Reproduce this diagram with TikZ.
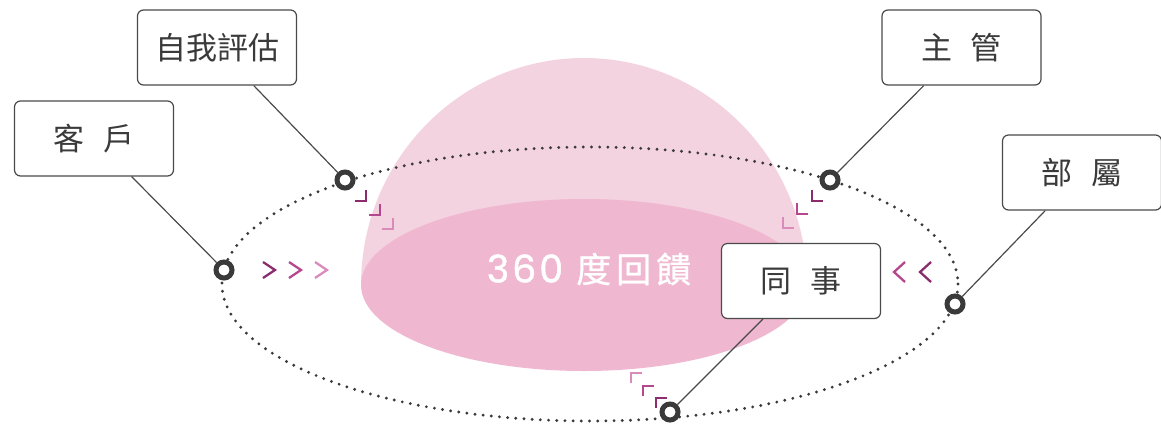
\documentclass[tikz,border=0pt]{standalone}
\usepackage{fontspec}
\newfontfamily\cjk{Noto Sans CJK TC}
\newfontfamily\numfont[FakeBold=1.2]{Poppins}
\newfontfamily\cjkbold[FakeBold=0.8]{Noto Sans CJK TC}
\definecolor{domelight}{HTML}{F4D3E1}
\definecolor{domebase}{HTML}{EFB8D0}
\definecolor{ringc}{HTML}{3A3A3A}
\definecolor{boxline}{HTML}{4A4A4A}
\definecolor{txt}{HTML}{3A3A3A}
\definecolor{pdark}{HTML}{8C2C6F}
\definecolor{pmid}{HTML}{B5478F}
\definecolor{plight}{HTML}{D98BBB}
\tikzset{
  labelbox/.style={draw=boxline, line width=1.2pt, fill=white, rounded corners=6pt,
    minimum width=159pt, minimum height=75pt, inner sep=0pt,
    font=\cjk\fontsize{31}{33}\selectfont, text=txt},
  ring/.style={circle, draw=ringc, line width=5pt, fill=white, minimum size=16pt, inner sep=0pt},
  conn/.style={draw=boxline, line width=1.2pt},
  dots/.style={draw=ringc, line width=3.2pt, dash pattern=on 0pt off 8.2pt, line cap=round},
  deco/.style={line width=2.3pt}
}
\begin{document}
\begin{tikzpicture}[x=1pt,y=-1pt]
\useasboundingbox (0,0) rectangle (1161,424);
% dome
\fill[domelight] (361,285) arc[start angle=180, end angle=360, x radius=223, y radius=227] -- cycle;
\fill[domebase] (584,285) ellipse[x radius=223, y radius=86];
\node[text=white, inner sep=0pt] (title) at (589,269)
  {{\numfont\fontsize{38}{40}\selectfont 3\hspace{3pt}6\hspace{3pt}0}\hspace{13pt}{\cjkbold\fontsize{35}{40}\selectfont 度\hspace{5pt}回\hspace{5pt}饋}};
% dotted ellipse
\draw[dots] (590,284) ellipse[x radius=368, y radius=137];
% boxes
\node[labelbox] (self) at (217,47.5) {自我評估};
\node[labelbox] (client) at (94,138.5) {客\hspace{0.6em}戶};
\node[labelbox] (boss) at (961.5,47.5) {主\hspace{0.6em}管};
\node[labelbox] (sub) at (1082,172.5) {部\hspace{0.6em}屬};
\node[labelbox] (peer) at (801,281) {同\hspace{0.6em}事};
% rings
\node[ring] (rself) at (345,180) {};
\node[ring] (rclient) at (224,270) {};
\node[ring] (rboss) at (830,180) {};
\node[ring] (rsub) at (955,304) {};
\node[ring] (rpeer) at (670,412) {};
% connectors
\draw[conn] (rself) -- (self);
\draw[conn] (rclient) -- (client);
\draw[conn] (rboss) -- (boss);
\draw[conn] (rsub) -- (sub);
\draw[conn] (rpeer) -- (peer);
% chevrons left
\draw[deco, pdark] (263,262) -- (275,270) -- (263,278);
\draw[deco, pmid] (289,262) -- (301,270) -- (289,278);
\draw[deco, plight] (315,262) -- (327,270) -- (315,278);
% chevrons right
\draw[deco, pmid] (905,262) -- (894,272) -- (905,282);
\draw[deco, pdark] (931,262) -- (920,272) -- (931,282);
% brackets top-left
\draw[deco, pdark] (366,190) -- (366,201) -- (355,201);
\draw[deco, pmid] (380,204) -- (380,215) -- (369,215);
\draw[deco, plight] (393,218) -- (393,229) -- (382,229);
% brackets top-right
\draw[deco, pdark] (812,190) -- (812,201) -- (823,201);
\draw[deco, pmid] (797,203) -- (797,214) -- (808,214);
\draw[deco, plight] (783,217) -- (783,228) -- (794,228);
% brackets bottom
\draw[deco, plight] (631,383) -- (631,373) -- (642,373);
\draw[deco, pmid] (643,396) -- (643,386) -- (654,386);
\draw[deco, pdark] (656,408) -- (656,398) -- (667,398);
\end{tikzpicture}
\end{document}
